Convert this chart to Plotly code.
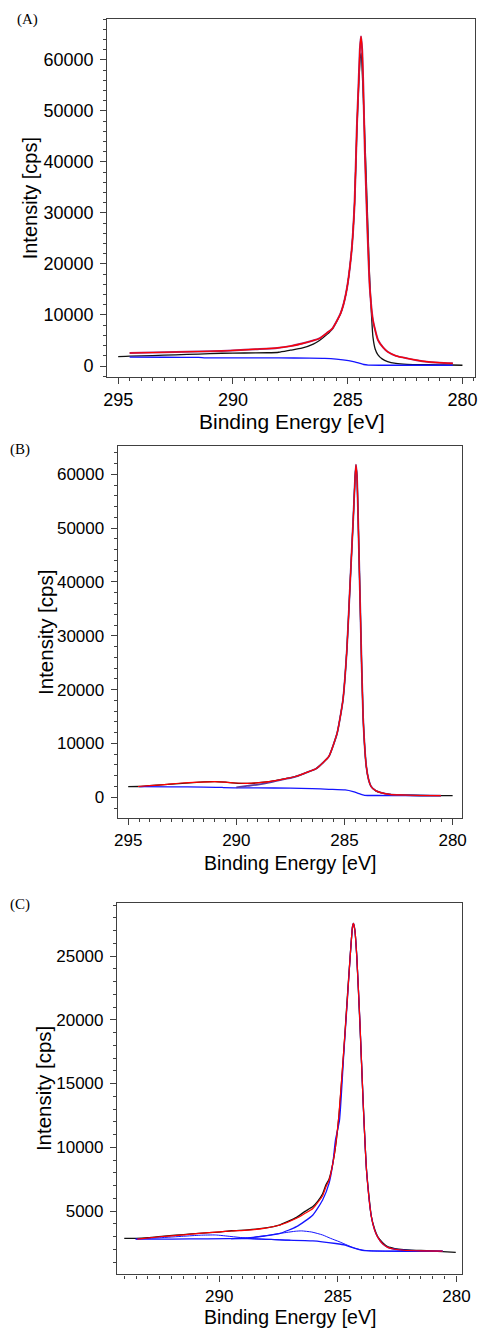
import plotly.graph_objects as go

W, H = 486, 1328

# ---------------- Panel A ----------------
a_raw_x = [295.0, 294.5, 293.5, 292.5, 291.5, 290.5, 289.5, 288.5, 288.0, 287.5, 287.0, 286.5, 286.23, 285.9,
           285.66, 285.31, 285.07, 284.84, 284.70, 284.60, 284.53, 284.45, 284.41, 284.36, 284.28, 284.20,
           284.13, 284.05, 283.99, 283.90, 283.80, 283.68, 283.50, 283.26, 282.90, 282.41, 281.5, 280.5, 280.0]
a_raw_y = [1850, 1950, 2050, 2200, 2350, 2500, 2550, 2600, 2700, 3100, 3500, 4300, 5000, 6200,
           7300, 10300, 14300, 22100, 31900, 46000, 54000, 60500, 61300, 57000, 48200, 38000,
           28600, 18000, 12300, 5700, 3300, 2200, 1400, 850, 500, 330, 250, 200, 150]

a_fit_x = [294.5, 293.5, 292.5, 291.5, 290.5, 290.0, 289.0, 288.07, 287.5, 286.94, 286.5, 286.23, 285.9,
           285.66, 285.31, 285.07, 284.84, 284.70, 284.60, 284.53, 284.47, 284.42, 284.37, 284.32, 284.25,
           284.13, 284.04, 283.90, 283.68, 283.45, 283.26, 282.90, 282.41, 282.0, 281.56, 281.0, 280.42]
a_fit_y = [2550, 2650, 2750, 2850, 2950, 3050, 3300, 3550, 3900, 4450, 5000, 5400, 6500,
           7400, 10300, 14300, 22100, 31900, 46900, 54800, 62000, 64600, 62000, 54800, 41700,
           25400, 15600, 9000, 5100, 3600, 2800, 2000, 1500, 1150, 850, 650, 520]

a_bg_x = [294.5, 293.0, 291.5, 291.2, 290.0, 288.0, 286.66, 286.0, 285.5, 284.96, 284.7, 284.53, 284.3,
          284.1, 283.5, 282.0, 280.42]
a_bg_y = [1760, 1720, 1680, 1600, 1600, 1580, 1550, 1500, 1350, 1050, 800, 600, 300,
          180, 150, 150, 150]

# ---------------- Panel B ----------------
b_raw_x = [295.0, 294.5, 293.5, 292.5, 291.5, 290.97, 290.5, 289.92, 289.3, 288.72, 288.2, 287.67, 287.22,
           286.76, 286.32, 286.0, 285.72, 285.34, 285.07, 284.89, 284.74, 284.59, 284.51, 284.47, 284.42,
           284.37, 284.26, 284.14, 283.99, 283.88, 283.77, 283.55, 283.32, 282.9, 282.41, 281.5, 280.54, 280.0]
b_raw_y = [1980, 2000, 2300, 2600, 2850, 2900, 2800, 2600, 2600, 2800, 3100, 3500, 3950,
           4600, 5300, 6400, 7600, 11900, 18100, 27400, 39700, 52100, 59500, 61500, 59500,
           52100, 33500, 15000, 5700, 3200, 2000, 1200, 860, 550, 430, 330, 300, 300]

b_fit_x = [294.55, 294.0, 293.2, 292.5, 291.7, 291.0, 290.5, 290.0, 289.5, 288.7, 288.2, 287.67, 287.22,
           286.76, 286.32, 286.0, 285.72, 285.34, 285.07, 284.89, 284.74, 284.59, 284.51, 284.47, 284.42,
           284.37, 284.26, 284.14, 283.99, 283.88, 283.77, 283.55, 283.32, 282.9, 282.41, 281.5, 280.54]
b_fit_y = [2000, 2150, 2400, 2650, 2800, 2900, 2800, 2650, 2600, 2800, 3100, 3500, 3900,
           4600, 5300, 6400, 7600, 11900, 18100, 27400, 39700, 52100, 59500, 61800, 59500,
           52100, 33500, 15000, 5700, 3200, 2000, 1200, 860, 550, 430, 330, 300]

b_bg_x = [294.5, 293.0, 291.5, 290.7, 290.6, 289.0, 287.5, 286.5, 285.72, 284.97, 284.6, 284.37, 284.07,
          283.5, 282.0, 280.54]
b_bg_y = [1970, 1930, 1900, 1850, 1800, 1750, 1700, 1600, 1480, 1360, 1050, 740, 370,
          330, 300, 300]

b_main_x = [290.0, 289.5, 289.0, 288.5, 288.2, 287.67, 287.22, 286.76, 286.32, 286.0, 285.72, 285.34,
            285.07, 284.89, 284.74, 284.59, 284.51, 284.47, 284.42, 284.37, 284.26, 284.14, 283.99, 283.88,
            283.77, 283.55, 283.32, 282.9, 282.41, 281.5, 280.54]
b_main_y = [1850, 2100, 2350, 2700, 3000, 3450, 3900, 4600, 5300, 6400, 7600, 11900,
            18100, 27400, 39700, 52100, 59500, 61800, 59500, 52100, 33500, 15000, 5700, 3200,
            2000, 1200, 860, 550, 430, 330, 300]

# ---------------- Panel C ----------------
c_raw_x = [294.0, 293.5, 293.0, 292.2, 291.5, 290.85, 290.0, 289.48, 288.8, 288.11, 287.43, 286.74,
           286.4, 286.05, 285.85, 285.64, 285.5, 285.37, 285.16, 284.96, 284.75, 284.61, 284.48, 284.38, 284.34,
           284.28, 284.20, 284.07, 283.93, 283.79, 283.59, 283.45, 283.32, 283.1, 282.9, 282.6, 282.22,
           281.5, 280.58, 280.03]
c_raw_y = [2860, 2850, 2900, 3050, 3150, 3250, 3350, 3450, 3520, 3650, 3920, 4500,
           4950, 5350, 5750, 6350, 7050, 7500, 9260, 12300, 17500, 21500, 24950, 27300, 27560,
           27000, 24950, 19700, 13500, 8200, 4600, 3600, 3000, 2500, 2200, 2050, 1960,
           1900, 1820, 1760]

c_fit_x = [293.45, 292.5, 291.5, 290.85, 290.0, 289.48, 288.8, 288.11, 287.43, 286.74, 286.4, 286.05,
           285.64, 285.5, 285.37, 285.16, 284.96, 284.75, 284.61, 284.48, 284.38, 284.34, 284.28, 284.20, 284.07,
           283.93, 283.79, 283.59, 283.45, 283.32, 283.1, 282.9, 282.6, 282.22, 281.5, 280.58]
c_fit_y = [2800, 2980, 3120, 3250, 3360, 3430, 3500, 3640, 3900, 4430, 4800, 5200,
           6200, 6900, 7400, 9260, 12400, 17600, 21300, 24950, 27300, 27560, 27000, 24950, 19900,
           13400, 8200, 4600, 3500, 2950, 2400, 2150, 2000, 1920, 1870, 1850]

c_bg_x = [293.52, 292.0, 290.5, 288.8, 287.43, 286.05, 285.09, 284.69, 284.41, 284.1, 283.87, 283.0,
          281.5, 280.58]
c_bg_y = [2800, 2800, 2820, 2830, 2740, 2660, 2450, 2330, 2140, 1970, 1890, 1850,
          1840, 1840]

c_co_x = [289.48, 288.8, 288.11, 287.6, 287.15, 286.8, 286.53, 286.1, 285.64, 285.3, 284.95, 284.6,
          284.27, 283.9, 283.5, 283.0, 281.5, 280.58]
c_co_y = [2830, 2900, 3040, 3200, 3320, 3410, 3440, 3350, 3120, 2850, 2600, 2320,
          2070, 1920, 1860, 1850, 1845, 1845]

c_coo_x = [293.52, 292.5, 291.5, 290.8, 290.16, 289.5, 289.0, 288.5, 287.7, 287.0]
c_coo_y = [2800, 2900, 3020, 3100, 3120, 3000, 2900, 2820, 2760, 2700]

c_main_x = [289.5, 288.8, 288.11, 287.43, 286.74, 286.05, 285.64, 285.37, 285.21, 285.1, 284.93,
            284.75, 284.61, 284.48, 284.38, 284.34, 284.28, 284.20, 284.07, 283.93, 283.79, 283.59,
            283.45, 283.32, 283.1, 282.9, 282.6, 282.22, 281.5, 280.58]
c_main_y = [2830, 2870, 3040, 3250, 3770, 4690, 5860, 7170, 8740, 10570, 12100,
            17300, 21200, 24950, 27300, 27560, 27000, 24950, 19900, 13400, 8200, 4600,
            3500, 2950, 2400, 2150, 2000, 1920, 1870, 1850]

# ---------------- tick labels ----------------
x_ticks_ab = [295, 290, 285, 280]
x_ticks_c = [290, 285, 280]
y_ticks_ab = [0, 10000, 20000, 30000, 40000, 50000, 60000]
y_ticks_c = [5000, 10000, 15000, 20000, 25000]

BLACK = "#111111"
RED = "#ff0000"
BLUE = "#1414ff"
FRAME = "#404040"
SANS = "Liberation Sans, Arial, sans-serif"
SERIF = "Liberation Serif, Times New Roman, serif"

fig = go.Figure()


def line(x, y, color, xa, ya, width=1.3):
    fig.add_trace(go.Scatter(x=x, y=y, mode="lines", xaxis=xa, yaxis=ya,
                             line=dict(color=color, width=width, shape="spline", smoothing=0.5),
                             showlegend=False, hoverinfo="skip"))


# Panel A
line(a_raw_x, a_raw_y, BLACK, "x", "y")
line(a_bg_x, a_bg_y, BLUE, "x", "y")
line(a_fit_x, a_fit_y, "#9a2d80", "x", "y", 2.0)
line(a_fit_x, a_fit_y, RED, "x", "y", 1.2)
# Panel B
line(b_raw_x, b_raw_y, BLACK, "x2", "y2")
line(b_bg_x, b_bg_y, BLUE, "x2", "y2")
line(b_main_x, b_main_y, "#5a3aa0", "x2", "y2", 1.8)
line(b_fit_x, b_fit_y, RED, "x2", "y2", 1.2)
# Panel C
line(c_raw_x, c_raw_y, BLACK, "x3", "y3")
line(c_bg_x, c_bg_y, BLUE, "x3", "y3")
line(c_co_x, c_co_y, BLUE, "x3", "y3", 1.0)
line(c_coo_x, c_coo_y, BLUE, "x3", "y3", 1.0)
line(c_main_x, c_main_y, BLUE, "x3", "y3", 1.3)
line(c_fit_x, c_fit_y, RED, "x3", "y3", 1.2)


def px_x(p):
    return p / W


def px_y(p):
    return 1 - p / H


def xaxis(dom, rng, ticks, fs):
    return dict(domain=[px_x(dom[0]), px_x(dom[1])], range=rng, tickvals=ticks,
                ticktext=[str(t) for t in ticks], ticks="outside", ticklen=6, tickwidth=1.2,
                tickcolor=FRAME, showline=True, linecolor=FRAME, linewidth=1.4, mirror=True,
                showgrid=False, zeroline=False, tickfont=dict(family=SANS, size=fs, color="#000"),
                minor=dict(ticks="outside", ticklen=3, tickwidth=1, tickcolor=FRAME, dtick=0.5,
                           tick0=280, showgrid=False),
                fixedrange=True)


def yaxis(dom, rng, ticks, fs, mdt, anchor):
    return dict(domain=[px_y(dom[1]), px_y(dom[0])], range=rng, tickvals=ticks,
                ticktext=[str(t) for t in ticks], ticks="outside", ticklen=6, tickwidth=1.2,
                tickcolor=FRAME, showline=True, linecolor=FRAME, linewidth=1.4, mirror=True,
                showgrid=False, zeroline=False, tickfont=dict(family=SANS, size=fs, color="#000"),
                ticklabelstandoff=3,
                minor=dict(ticks="outside", ticklen=3, tickwidth=1, tickcolor=FRAME, dtick=mdt,
                           tick0=0, showgrid=False),
                anchor=anchor, fixedrange=True)


fig.update_layout(
    width=W, height=H, autosize=False, margin=dict(l=0, r=0, t=0, b=0, pad=0),
    paper_bgcolor="white", plot_bgcolor="white",
    xaxis=dict(xaxis((106, 483), [295.47, 279.45], x_ticks_ab, 18), anchor="y"),
    yaxis=yaxis((19, 377), [-2150, 68000], y_ticks_ab, 18, 2000, "x"),
    xaxis2=dict(xaxis((116.7, 469.3), [295.48, 279.58], x_ticks_ab, 17), anchor="y2"),
    yaxis2=yaxis((446, 818), [-3850, 65260], y_ticks_ab, 17, 2000, "x2"),
    xaxis3=dict(xaxis((116, 470), [294.30, 279.75], x_ticks_c, 17), anchor="y3"),
    yaxis3=yaxis((902.7, 1274.3), [35, 29180], y_ticks_c, 17, 1000, "x3"),
)


def ann(text, x, y, size, family=SANS, angle=0):
    fig.add_annotation(text=text, x=px_x(x), y=px_y(y), xref="paper", yref="paper",
                       xanchor="center", yanchor="middle", showarrow=False, textangle=angle,
                       font=dict(family=family, size=size, color="#000"))


ann("Binding Energy [eV]", 295, 421, 21)
ann("Binding Energy [eV]", 293.3, 862.5, 19.5)
ann("Binding Energy [eV]", 293.3, 1317, 19.5)
ann("Intensity [cps]", 26.7, 198.3, 20, angle=-90)
ann("Intensity [cps]", 42.5, 632.5, 20.5, angle=-90)
ann("Intensity [cps]", 40.8, 1088.3, 20.5, angle=-90)
ann("(A)", 24, 20, 15, SERIF)
ann("(B)", 16, 449.3, 15, SERIF)
ann("(C)", 16, 904, 15, SERIF)

fig.write_html(
    "out.html", config={"displayModeBar": False},
    post_script=("document.body.style.margin='0';document.body.style.overflow='hidden';"
                 "var gd=document.getElementById('{plot_id}');"
                 "Plotly.relayout(gd,{width:486,height:1328});"))
